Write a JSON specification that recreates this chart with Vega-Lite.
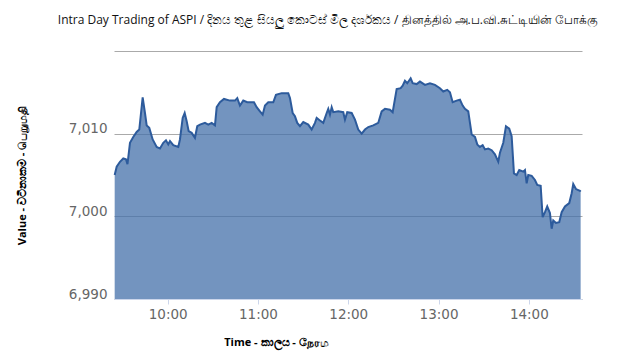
{
  "$schema": "https://vega.github.io/schema/vega-lite/v6.json",
  "width": 468,
  "height": 248,
  "autosize": {"type": "none"},
  "padding": {"left": 114, "top": 51, "right": 46, "bottom": 60},
  "background": "white",
  "config": {"view": {"stroke": null}},
  "title": {
    "text": "Intra Day Trading of ASPI / දිනය තුළ සියලු කොටස් මිල දර්ශකය  / தினத்தில் அ.ப.வி.சுட்டியின் போக்கு",
    "font": "Open Sans",
    "fontSize": 12,
    "fontWeight": "normal",
    "color": "#111111",
    "anchor": "middle",
    "frame": "group",
    "dx": -20,
    "offset": 24
  },
  "data": {
    "values": [
      {"t": "2024-01-01T09:24:47", "v": 7005.0},
      {"t": "2024-01-01T09:26:07", "v": 7006.0},
      {"t": "2024-01-01T09:28:18", "v": 7006.6},
      {"t": "2024-01-01T09:30:30", "v": 7007.0},
      {"t": "2024-01-01T09:32:17", "v": 7006.9},
      {"t": "2024-01-01T09:33:17", "v": 7006.3},
      {"t": "2024-01-01T09:34:57", "v": 7008.9},
      {"t": "2024-01-01T09:37:08", "v": 7009.6},
      {"t": "2024-01-01T09:39:24", "v": 7010.2},
      {"t": "2024-01-01T09:41:08", "v": 7010.5},
      {"t": "2024-01-01T09:43:23", "v": 7014.4},
      {"t": "2024-01-01T09:44:55", "v": 7012.5},
      {"t": "2024-01-01T09:46:03", "v": 7011.0},
      {"t": "2024-01-01T09:47:46", "v": 7010.7},
      {"t": "2024-01-01T09:50:02", "v": 7009.3},
      {"t": "2024-01-01T09:52:41", "v": 7008.4},
      {"t": "2024-01-01T09:54:53", "v": 7008.2},
      {"t": "2024-01-01T09:57:05", "v": 7008.9},
      {"t": "2024-01-01T09:58:52", "v": 7009.2},
      {"t": "2024-01-01T10:00:24", "v": 7008.7},
      {"t": "2024-01-01T10:01:32", "v": 7009.1},
      {"t": "2024-01-01T10:03:43", "v": 7008.6},
      {"t": "2024-01-01T10:07:02", "v": 7008.4},
      {"t": "2024-01-01T10:08:10", "v": 7009.3},
      {"t": "2024-01-01T10:09:58", "v": 7011.9},
      {"t": "2024-01-01T10:11:18", "v": 7012.5},
      {"t": "2024-01-01T10:12:38", "v": 7011.5},
      {"t": "2024-01-01T10:13:57", "v": 7010.3},
      {"t": "2024-01-01T10:15:57", "v": 7010.1},
      {"t": "2024-01-01T10:18:08", "v": 7009.5},
      {"t": "2024-01-01T10:19:40", "v": 7010.9},
      {"t": "2024-01-01T10:21:28", "v": 7011.1},
      {"t": "2024-01-01T10:24:47", "v": 7011.3},
      {"t": "2024-01-01T10:26:59", "v": 7011.1},
      {"t": "2024-01-01T10:29:14", "v": 7011.3},
      {"t": "2024-01-01T10:31:26", "v": 7011.0},
      {"t": "2024-01-01T10:32:34", "v": 7013.2},
      {"t": "2024-01-01T10:34:45", "v": 7013.8},
      {"t": "2024-01-01T10:37:25", "v": 7014.2},
      {"t": "2024-01-01T10:41:24", "v": 7014.0},
      {"t": "2024-01-01T10:44:43", "v": 7014.0},
      {"t": "2024-01-01T10:46:15", "v": 7014.3},
      {"t": "2024-01-01T10:48:02", "v": 7013.4},
      {"t": "2024-01-01T10:50:14", "v": 7014.0},
      {"t": "2024-01-01T10:52:53", "v": 7013.8},
      {"t": "2024-01-01T10:55:49", "v": 7013.8},
      {"t": "2024-01-01T10:57:21", "v": 7013.8},
      {"t": "2024-01-01T10:59:08", "v": 7013.2},
      {"t": "2024-01-01T11:01:20", "v": 7012.7},
      {"t": "2024-01-01T11:03:08", "v": 7012.3},
      {"t": "2024-01-01T11:04:40", "v": 7013.4},
      {"t": "2024-01-01T11:06:51", "v": 7013.8},
      {"t": "2024-01-01T11:10:10", "v": 7013.8},
      {"t": "2024-01-01T11:11:58", "v": 7014.7},
      {"t": "2024-01-01T11:15:45", "v": 7014.9},
      {"t": "2024-01-01T11:20:08", "v": 7014.9},
      {"t": "2024-01-01T11:21:16", "v": 7014.3},
      {"t": "2024-01-01T11:23:04", "v": 7012.5},
      {"t": "2024-01-01T11:24:35", "v": 7012.1},
      {"t": "2024-01-01T11:26:07", "v": 7011.3},
      {"t": "2024-01-01T11:27:55", "v": 7010.9},
      {"t": "2024-01-01T11:30:07", "v": 7011.4},
      {"t": "2024-01-01T11:33:26", "v": 7011.1},
      {"t": "2024-01-01T11:35:41", "v": 7010.5},
      {"t": "2024-01-01T11:37:53", "v": 7011.3},
      {"t": "2024-01-01T11:39:01", "v": 7011.9},
      {"t": "2024-01-01T11:41:12", "v": 7011.6},
      {"t": "2024-01-01T11:43:24", "v": 7011.3},
      {"t": "2024-01-01T11:45:40", "v": 7012.5},
      {"t": "2024-01-01T11:46:43", "v": 7013.0},
      {"t": "2024-01-01T11:47:51", "v": 7012.3},
      {"t": "2024-01-01T11:48:59", "v": 7013.2},
      {"t": "2024-01-01T11:50:02", "v": 7012.6},
      {"t": "2024-01-01T11:53:22", "v": 7012.7},
      {"t": "2024-01-01T11:56:41", "v": 7012.6},
      {"t": "2024-01-01T11:57:49", "v": 7011.7},
      {"t": "2024-01-01T11:59:20", "v": 7012.6},
      {"t": "2024-01-01T12:02:16", "v": 7012.5},
      {"t": "2024-01-01T12:04:28", "v": 7011.7},
      {"t": "2024-01-01T12:06:39", "v": 7010.5},
      {"t": "2024-01-01T12:08:55", "v": 7010.0},
      {"t": "2024-01-01T12:11:07", "v": 7010.5},
      {"t": "2024-01-01T12:13:18", "v": 7010.8},
      {"t": "2024-01-01T12:16:37", "v": 7011.0},
      {"t": "2024-01-01T12:19:56", "v": 7011.3},
      {"t": "2024-01-01T12:22:12", "v": 7012.7},
      {"t": "2024-01-01T12:24:24", "v": 7013.0},
      {"t": "2024-01-01T12:27:43", "v": 7012.9},
      {"t": "2024-01-01T12:29:31", "v": 7012.6},
      {"t": "2024-01-01T12:32:10", "v": 7015.4},
      {"t": "2024-01-01T12:34:50", "v": 7015.5},
      {"t": "2024-01-01T12:36:10", "v": 7015.8},
      {"t": "2024-01-01T12:37:41", "v": 7016.4},
      {"t": "2024-01-01T12:39:13", "v": 7016.1},
      {"t": "2024-01-01T12:41:28", "v": 7016.7},
      {"t": "2024-01-01T12:42:48", "v": 7016.1},
      {"t": "2024-01-01T12:45:28", "v": 7016.0},
      {"t": "2024-01-01T12:47:39", "v": 7016.3},
      {"t": "2024-01-01T12:50:59", "v": 7015.9},
      {"t": "2024-01-01T12:54:18", "v": 7016.1},
      {"t": "2024-01-01T12:57:37", "v": 7015.9},
      {"t": "2024-01-01T13:00:56", "v": 7015.5},
      {"t": "2024-01-01T13:03:08", "v": 7015.1},
      {"t": "2024-01-01T13:05:47", "v": 7015.3},
      {"t": "2024-01-01T13:07:35", "v": 7015.0},
      {"t": "2024-01-01T13:09:23", "v": 7013.8},
      {"t": "2024-01-01T13:12:02", "v": 7014.0},
      {"t": "2024-01-01T13:14:14", "v": 7014.1},
      {"t": "2024-01-01T13:16:02", "v": 7013.4},
      {"t": "2024-01-01T13:17:34", "v": 7013.0},
      {"t": "2024-01-01T13:19:45", "v": 7012.7},
      {"t": "2024-01-01T13:22:01", "v": 7009.9},
      {"t": "2024-01-01T13:24:12", "v": 7009.6},
      {"t": "2024-01-01T13:25:44", "v": 7008.7},
      {"t": "2024-01-01T13:27:31", "v": 7008.4},
      {"t": "2024-01-01T13:29:19", "v": 7008.6},
      {"t": "2024-01-01T13:30:51", "v": 7008.1},
      {"t": "2024-01-01T13:33:02", "v": 7008.2},
      {"t": "2024-01-01T13:35:18", "v": 7008.0},
      {"t": "2024-01-01T13:37:29", "v": 7007.5},
      {"t": "2024-01-01T13:39:41", "v": 7006.6},
      {"t": "2024-01-01T13:40:49", "v": 7007.7},
      {"t": "2024-01-01T13:43:01", "v": 7008.9},
      {"t": "2024-01-01T13:44:48", "v": 7010.9},
      {"t": "2024-01-01T13:46:59", "v": 7010.6},
      {"t": "2024-01-01T13:48:35", "v": 7009.7},
      {"t": "2024-01-01T13:50:07", "v": 7005.2},
      {"t": "2024-01-01T13:51:55", "v": 7005.0},
      {"t": "2024-01-01T13:53:38", "v": 7005.6},
      {"t": "2024-01-01T13:56:18", "v": 7005.4},
      {"t": "2024-01-01T13:57:26", "v": 7005.6},
      {"t": "2024-01-01T13:58:34", "v": 7004.0},
      {"t": "2024-01-01T13:59:37", "v": 7005.0},
      {"t": "2024-01-01T14:01:53", "v": 7004.9},
      {"t": "2024-01-01T14:04:04", "v": 7004.4},
      {"t": "2024-01-01T14:05:36", "v": 7003.8},
      {"t": "2024-01-01T14:07:52", "v": 7003.7},
      {"t": "2024-01-01T14:09:11", "v": 6999.9},
      {"t": "2024-01-01T14:10:43", "v": 7000.5},
      {"t": "2024-01-01T14:12:14", "v": 7001.2},
      {"t": "2024-01-01T14:14:02", "v": 7000.4},
      {"t": "2024-01-01T14:15:10", "v": 6998.5},
      {"t": "2024-01-01T14:16:14", "v": 6999.5},
      {"t": "2024-01-01T14:18:02", "v": 6999.2},
      {"t": "2024-01-01T14:20:13", "v": 6999.3},
      {"t": "2024-01-01T14:21:49", "v": 7000.5},
      {"t": "2024-01-01T14:24:01", "v": 7001.2},
      {"t": "2024-01-01T14:26:52", "v": 7001.6},
      {"t": "2024-01-01T14:28:28", "v": 7002.8},
      {"t": "2024-01-01T14:29:31", "v": 7003.9},
      {"t": "2024-01-01T14:31:19", "v": 7003.3},
      {"t": "2024-01-01T14:33:58", "v": 7003.1},
      {"t": "2024-01-01T14:34:26", "v": 7003.0}
    ]
  },
  "mark": {
    "type": "area",
    "fill": "#4470aa",
    "fillOpacity": 0.75,
    "line": {"color": "#2d5b9c", "strokeWidth": 2}
  },
  "encoding": {
    "x": {
      "field": "t",
      "type": "temporal",
      "scale": {
        "domain": [
          {"year": 2024, "month": 1, "date": 1, "hours": 9, "minutes": 24, "seconds": 20},
          {"year": 2024, "month": 1, "date": 1, "hours": 14, "minutes": 35, "seconds": 20}
        ]
      },
      "axis": {
        "title": "Time - කාලය - நேரம",
        "titleFont": "Open Sans",
        "titleFontSize": 11,
        "titleFontWeight": "bold",
        "titleColor": "#000000",
        "titleX": 162,
        "titleY": 43,
        "titleAlign": "center",
        "titleBaseline": "middle",
        "values": [
          {"year": 2024, "month": 1, "date": 1, "hours": 10},
          {"year": 2024, "month": 1, "date": 1, "hours": 11},
          {"year": 2024, "month": 1, "date": 1, "hours": 12},
          {"year": 2024, "month": 1, "date": 1, "hours": 13},
          {"year": 2024, "month": 1, "date": 1, "hours": 14}
        ],
        "format": "%H:%M",
        "labelFont": "DejaVu Sans",
        "labelFontSize": 13.5,
        "labelColor": "#666666",
        "labelPadding": 3,
        "tickSize": 5,
        "tickColor": "#ccd6eb",
        "domainColor": "#ccd6eb",
        "grid": false
      }
    },
    "y": {
      "field": "v",
      "type": "quantitative",
      "scale": {"domain": [6990, 7020], "zero": false, "nice": false},
      "axis": {
        "title": "Value - වටිනාකම - பெறுமதி",
        "titleFont": "Open Sans",
        "titleFontSize": 11,
        "titleFontWeight": "bold",
        "titleColor": "#000000",
        "titleX": -92,
        "titleY": 124,
        "titleAngle": -90,
        "titleAlign": "center",
        "titleBaseline": "middle",
        "values": [6990, 7000, 7010, 7020],
        "labelExpr": "datum.value >= 7020 ? '' : format(datum.value, ',d')",
        "labelFont": "DejaVu Sans",
        "labelFontSize": 13.5,
        "labelColor": "#666666",
        "labelBaseline": "alphabetic",
        "labelOffset": -1,
        "labelPadding": 7,
        "ticks": false,
        "domain": false,
        "grid": true,
        "gridColor": "#aaaaaa"
      }
    },
    "y2": {"datum": 6990}
  }
}
